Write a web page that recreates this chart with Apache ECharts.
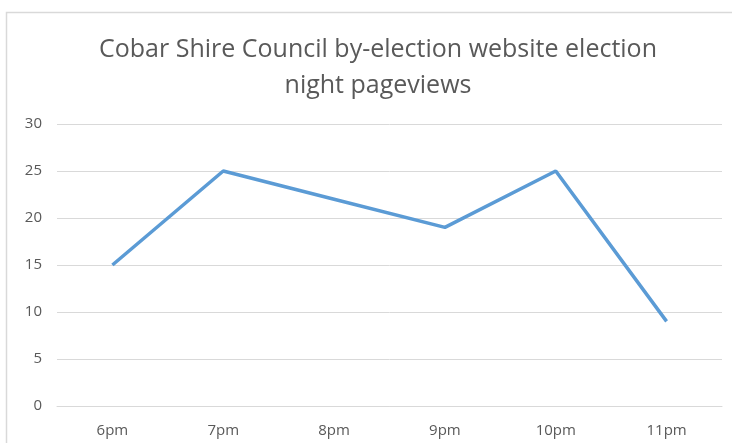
<!DOCTYPE html>
<html><head><meta charset="utf-8">
<script src="https://cdn.jsdelivr.net/npm/echarts@6/dist/echarts.min.js"></script>
<style>html,body{margin:0;padding:0;background:#fff}#c{width:732px;height:443px}</style>
</head><body><div id="c"></div>
<script>
const categories = ['6pm','7pm','8pm','9pm','10pm','11pm'];
const pageviews = [15, 25, 22, 19, 25, 9];
const titleText = 'Cobar Shire Council by-election website election\nnight pageviews';
const chart = echarts.init(document.getElementById('c'), null, {renderer:'canvas'});
chart.setOption({
  animation:false,
  backgroundColor:'#fff',
  graphic:[{type:'rect', shape:{x:6.5,y:12.5,width:760,height:460}, style:{fill:'none',stroke:'#d9d9d9',lineWidth:1.5}, silent:true}],
  title:{text:titleText, left:373, top:27, textAlign:'center',
    textStyle:{fontFamily:'Open Sans', fontSize:25, fontWeight:'normal', color:'#595959', lineHeight:36}},
  grid:{left:57, right:10, top:124, bottom:37, containLabel:false},
  xAxis:{type:'category', data:categories, boundaryGap:true,
    axisLine:{lineStyle:{color:'#d9d9d9'}}, axisTick:{show:false},
    axisLabel:{color:'#595959', fontFamily:'Open Sans', fontSize:15, margin:17}},
  yAxis:{type:'value', min:0, max:30, interval:5,
    axisLine:{show:false}, axisTick:{show:false},
    splitLine:{lineStyle:{color:'#d9d9d9'}},
    axisLabel:{color:'#595959', fontFamily:'Open Sans', fontSize:15, margin:15}},
  series:[{type:'line', data:pageviews, symbol:'none', lineStyle:{color:'#5b9bd5', width:3.5}}]
});
</script></body></html>
